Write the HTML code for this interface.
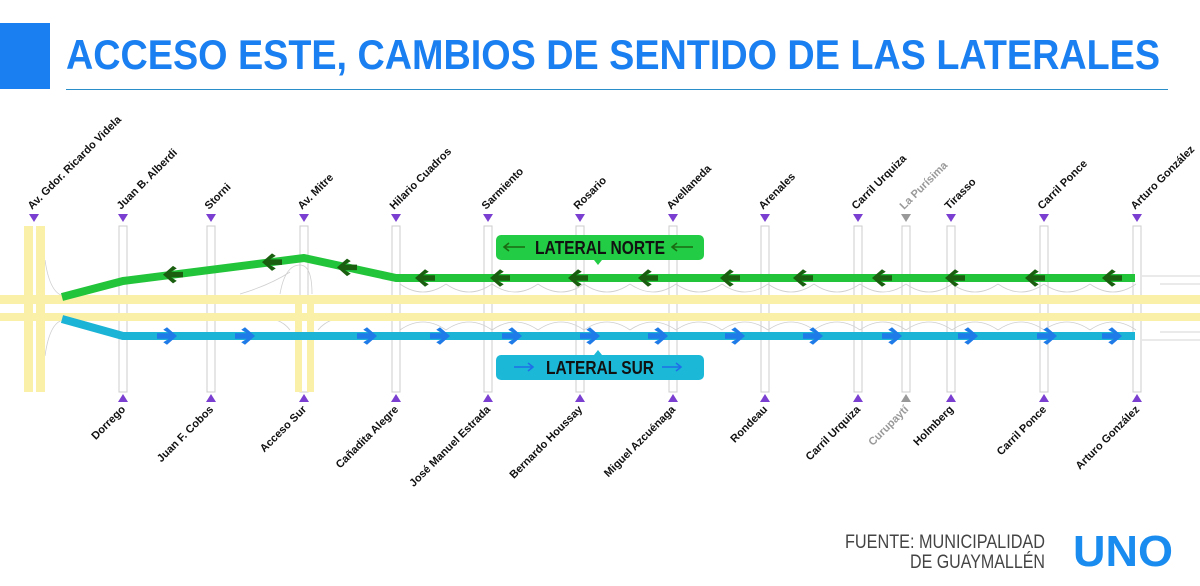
<!DOCTYPE html>
<html><head><meta charset="utf-8"><style>
html,body{margin:0;padding:0;background:#fff;width:1200px;height:586px;overflow:hidden}
svg{display:block}
text{font-family:"Liberation Sans",sans-serif}
</style></head><body>
<svg id="s" width="1200" height="586" viewBox="0 0 1200 586" xmlns="http://www.w3.org/2000/svg">
<rect x="0" y="23" width="50" height="66" fill="#1a7ff0"/>
<text x="66" y="69" font-size="42" font-weight="bold" fill="#1a7ff0" textLength="1094" lengthAdjust="spacingAndGlyphs">ACCESO ESTE, CAMBIOS DE SENTIDO DE LAS LATERALES</text>
<line x1="66" y1="89.5" x2="1168" y2="89.5" stroke="#2a8fc8" stroke-width="1"/>
<g id="streets"></g>
<g id="curves" fill="none" stroke="#cfcfcf" stroke-width="0.8"></g>
<path d="M1142 276 H1200 M1142 340 H1200 M1160 284 H1200 M1160 332 H1200" stroke="#d6d6d6" stroke-width="1" fill="none"/>
<rect x="0" y="295" width="1200" height="9" fill="#fbf0a8"/>
<rect x="0" y="313" width="1200" height="8" fill="#fbf0a8"/>
<rect x="24" y="226" width="9" height="166" fill="#fbf0a8"/>
<rect x="36" y="226" width="9" height="166" fill="#fbf0a8"/>
<rect x="295" y="304" width="7" height="88" fill="#fbf0a8"/>
<rect x="307" y="304" width="7" height="88" fill="#fbf0a8"/>
<polyline points="62,297 123,281 304,258 396,278 1135,278" fill="none" stroke="#22c43a" stroke-width="8" stroke-linejoin="round"/>
<polyline points="62,319 123,336 1135,336" fill="none" stroke="#1bb3d6" stroke-width="8" stroke-linejoin="round"/>
<g id="arrows"></g>
<rect x="496" y="235" width="208" height="25" rx="5" fill="#22cc44"/>
<polygon points="594,260 602,260 598,265" fill="#22cc44"/>
<text x="600" y="254" font-size="18" font-weight="bold" text-anchor="middle" fill="#111" textLength="130" lengthAdjust="spacingAndGlyphs">LATERAL NORTE</text>
<g stroke="#1a6a12" stroke-width="1.6" fill="none">
<path d="M504 247 H525 M509 243 L504 247 L509 251"/>
<path d="M672 247 H693 M677 243 L672 247 L677 251"/>
</g>
<rect x="496" y="355" width="208" height="25" rx="5" fill="#1bb8d8"/>
<polygon points="594,355 602,355 598,350" fill="#1bb8d8"/>
<text x="600" y="374" font-size="18" font-weight="bold" text-anchor="middle" fill="#111" textLength="108" lengthAdjust="spacingAndGlyphs">LATERAL SUR</text>
<g stroke="#1e6fe8" stroke-width="1.6" fill="none">
<path d="M514 367 H533 M528 363 L533 367 L528 371"/>
<path d="M662 367 H681 M676 363 L681 367 L676 371"/>
</g>
<g id="labels" font-size="11" font-weight="bold"></g>
<text x="1045" y="548" font-size="19" fill="#444" text-anchor="end" textLength="200" lengthAdjust="spacingAndGlyphs">FUENTE: MUNICIPALIDAD</text>
<text x="1045" y="568" font-size="19" fill="#444" text-anchor="end" textLength="135" lengthAdjust="spacingAndGlyphs">DE GUAYMALLÉN</text>
<text x="1073" y="566" font-size="44" font-weight="bold" fill="#1a8cf0" textLength="100" lengthAdjust="spacingAndGlyphs">UNO</text>
</svg>
<script>
(function(){
const NS="http://www.w3.org/2000/svg";
function el(p,t,a,txt){const e=document.createElementNS(NS,t);for(const k in a)e.setAttribute(k,a[k]);if(txt)e.textContent=txt;document.getElementById(p).appendChild(e);return e;}
const xs=[123,211,304,396,488,580,673,765,858,906,951,1044,1137];
const topNames=["Juan B. Alberdi","Storni","Av. Mitre","Hilario Cuadros","Sarmiento","Rosario","Avellaneda","Arenales","Carril Urquiza","La Purísima","Tirasso","Carril Ponce","Arturo González"];
const botNames=["Dorrego","Juan F. Cobos","Acceso Sur","Cañadita Alegre","José Manuel Estrada","Bernardo Houssay","Miguel Azcuénaga","Rondeau","Carril Urquiza","Curupaytí","Holmberg","Carril Ponce","Arturo González"];
xs.forEach((x,i)=>{
  el("streets","rect",{x:x-4,y:226,width:8,height:166,fill:"#fff",stroke:"#cccccc","stroke-width":1});
  const c=i==9?"#999":"#7a3fd0";
  el("streets","polygon",{points:`${x-5},214 ${x+5},214 ${x},222`,fill:c});
  el("streets","polygon",{points:`${x-5},402 ${x+5},402 ${x},394`,fill:c});
  el("labels","text",{x:x-2,y:210,transform:`rotate(-45 ${x-2} 210)`,fill:i==9?"#999":"#111"},topNames[i]);
  el("labels","text",{x:x+3,y:410,"text-anchor":"end",transform:`rotate(-45 ${x+3} 410)`,fill:i==9?"#999":"#111"},botNames[i]);
});
el("streets","polygon",{points:"29,214 39,214 34,222",fill:"#7a3fd0"});
el("labels","text",{x:32,y:210,transform:"rotate(-45 32 210)",fill:"#111"},"Av. Gdor. Ricardo Videla");
let d="";
for(let x=400;x<1130;x+=46){d+=`M${x} 284 Q${x+23} 300 ${x+46} 284 `;d+=`M${x} 330 Q${x+23} 314 ${x+46} 330 `;}
d+="M45 260 Q50 295 65 296 M45 356 Q50 320 65 320 M280 294 Q285 265 300 265 Q312 265 312 294 M240 294 Q270 285 290 272 M318 330 Q330 315 360 316 M290 330 Q280 316 250 316";
el("curves","path",{d:d});
function gy(x){if(x<123)return 297+(x-62)*(281-297)/61;if(x<304)return 281+(x-123)*(258-281)/181;if(x<396)return 258+(x-304)*(20/92);return 278;}
function arrow(cx,cy,s,col){
 const k=1.25;
 const p=[[-8,0],[0,-7],[3,-5],[-1.5,-2.2],[8,-2.2],[8,2.2],[-1.5,2.2],[3,5],[0,7]].map(([a,b])=>`${cx+a*s*k},${cy+b*k}`).join(" ");
 el("arrows","polygon",{points:p,fill:col});}
[173,272,347,425,500,578,648,730,803,882,955,1035,1112].forEach(x=>arrow(x,gy(x),1,"#1a5e10"));
[167,245,367,440,512,590,658,735,813,892,968,1047,1112].forEach(x=>arrow(x,336,-1,"#1e7be8"));
})();
</script>
</body></html>
